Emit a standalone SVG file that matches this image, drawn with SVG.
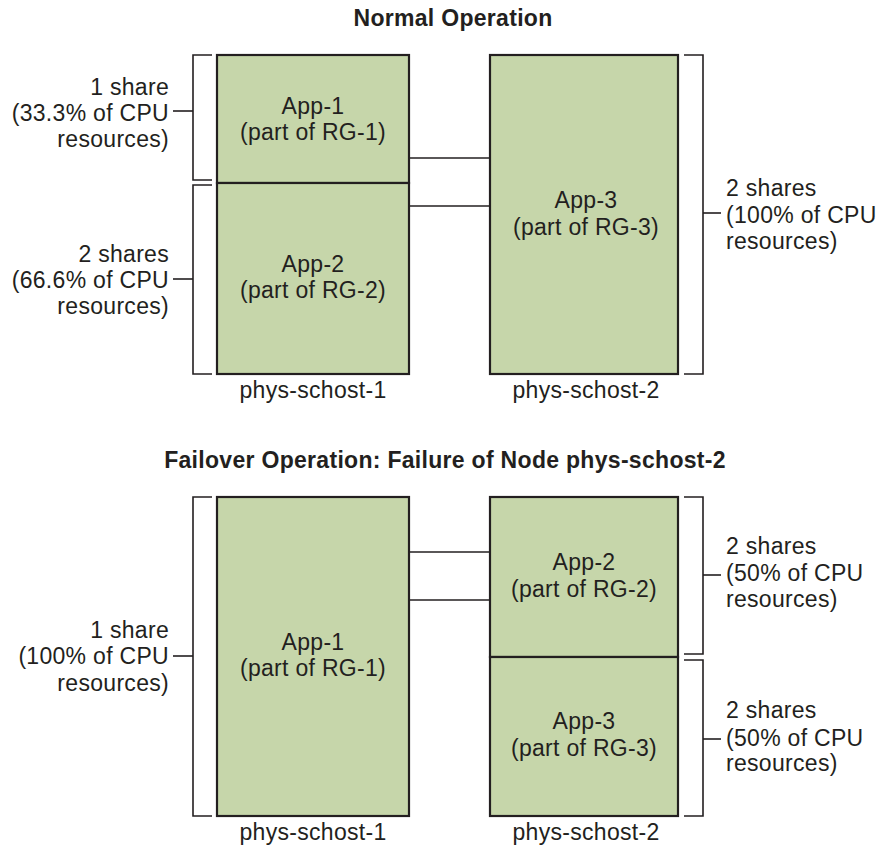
<svg xmlns="http://www.w3.org/2000/svg" width="881" height="848" viewBox="0 0 881 848">
<style>
  text { font-family: "Liberation Sans", Arial, Helvetica, sans-serif; fill: #231f20; font-size: 23px; letter-spacing: 0.3px; }
  .title { font-weight: bold; text-anchor: middle; }
  .mid { text-anchor: middle; }
  .end { text-anchor: end; }
  .box { fill: #c6d6aa; stroke: #231f20; stroke-width: 2.2; }
  .br { fill: none; stroke: #231f20; stroke-width: 1.6; }
  .conn { fill: none; stroke: #231f20; stroke-width: 1.6; }
</style>
<rect width="881" height="848" fill="#ffffff"/>

<text class="title" x="453" y="26">Normal Operation</text>
<text class="title" x="445" y="468">Failover Operation: Failure of Node phys-schost-2</text>

<g id="connectors">
  <path class="conn" d="M409,158 H490"/>
  <path class="conn" d="M409,206 H490"/>
  <path class="conn" d="M409,552 H490"/>
  <path class="conn" d="M409,600 H490"/>
</g>

<g id="brackets">
  <path class="br" d="M212,55 H193 V180 H212"/>
  <path class="br" d="M173,111 H193"/>
  <path class="br" d="M212,185 H193 V374 H212"/>
  <path class="br" d="M173,279 H193"/>
  <path class="br" d="M684,55 H703 V374 H684"/>
  <path class="br" d="M703,213 H721"/>
  <path class="br" d="M212,497 H193 V816 H212"/>
  <path class="br" d="M173,656 H193"/>
  <path class="br" d="M684,497 H703 V654 H684"/>
  <path class="br" d="M703,575 H721"/>
  <path class="br" d="M684,660 H703 V816 H684"/>
  <path class="br" d="M703,739 H721"/>
</g>

<g id="top-app1">
  <rect class="box" x="217" y="55" width="192" height="128"/>
  <text class="mid" x="313" y="114">App-1</text>
  <text class="mid" x="313" y="140">(part of RG-1)</text>
</g>
<g id="top-app2">
  <rect class="box" x="217" y="183" width="192" height="191"/>
  <text class="mid" x="313" y="272">App-2</text>
  <text class="mid" x="313" y="298">(part of RG-2)</text>
</g>
<g id="top-app3">
  <rect class="box" x="490" y="55" width="188" height="319"/>
  <text class="mid" x="586" y="208">App-3</text>
  <text class="mid" x="586" y="235">(part of RG-3)</text>
</g>

<g id="top-labels">
  <text class="end" x="169" y="95">1 share</text>
  <text class="end" x="169" y="121">(33.3% of CPU</text>
  <text class="end" x="169" y="147">resources)</text>
  <text class="end" x="169" y="262">2 shares</text>
  <text class="end" x="169" y="288">(66.6% of CPU</text>
  <text class="end" x="169" y="314">resources)</text>
  <text x="726" y="196">2 shares</text>
  <text x="726" y="223">(100% of CPU</text>
  <text x="726" y="249">resources)</text>
  <text class="mid" x="313" y="398">phys-schost-1</text>
  <text class="mid" x="586" y="398">phys-schost-2</text>
</g>

<g id="bottom-app1">
  <rect class="box" x="217" y="497" width="192" height="319"/>
  <text class="mid" x="313" y="650">App-1</text>
  <text class="mid" x="313" y="676">(part of RG-1)</text>
</g>
<g id="bottom-app2">
  <rect class="box" x="490" y="497" width="188" height="160"/>
  <text class="mid" x="584" y="570">App-2</text>
  <text class="mid" x="584" y="597">(part of RG-2)</text>
</g>
<g id="bottom-app3">
  <rect class="box" x="490" y="657" width="188" height="159"/>
  <text class="mid" x="584" y="729">App-3</text>
  <text class="mid" x="584" y="756">(part of RG-3)</text>
</g>

<g id="bottom-labels">
  <text class="end" x="169" y="638">1 share</text>
  <text class="end" x="169" y="664">(100% of CPU</text>
  <text class="end" x="169" y="691">resources)</text>
  <text x="726" y="554">2 shares</text>
  <text x="726" y="581">(50% of CPU</text>
  <text x="726" y="607">resources)</text>
  <text x="726" y="718">2 shares</text>
  <text x="726" y="746">(50% of CPU</text>
  <text x="726" y="771">resources)</text>
  <text class="mid" x="313" y="840">phys-schost-1</text>
  <text class="mid" x="586" y="840">phys-schost-2</text>
</g>
</svg>
